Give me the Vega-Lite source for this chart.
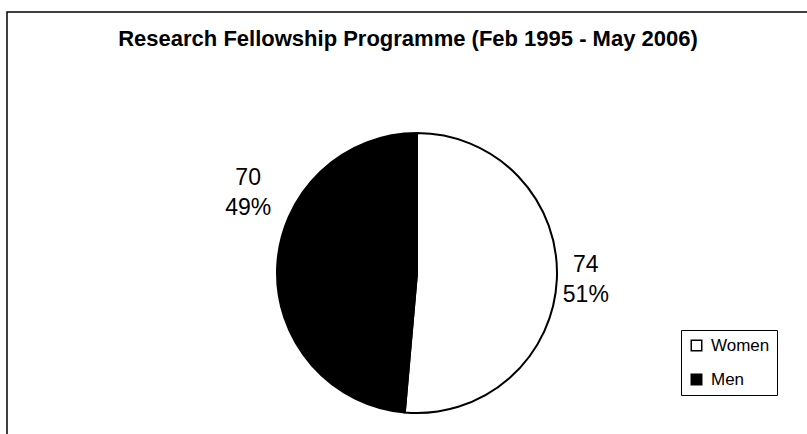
{
  "$schema": "https://vega.github.io/schema/vega-lite/v6.json",
  "width": 820,
  "height": 522,
  "autosize": {"type": "none"},
  "padding": {"left": 7, "top": 12, "right": -20, "bottom": -100},
  "background": "white",
  "view": {"stroke": "black", "strokeWidth": 1.5, "fill": "white"},
  "config": {
    "view": {"stroke": "black", "strokeWidth": 1.5},
    "style": {"view": {"stroke": "black", "strokeWidth": 1.5}},
    "font": "Liberation Sans"
  },
  "title": {
    "text": "Research Fellowship Programme (Feb 1995 - May 2006)",
    "font": "Liberation Sans",
    "fontSize": 22,
    "fontWeight": "bold",
    "color": "black",
    "anchor": "middle",
    "offset": -39,
    "dx": -9
  },
  "data": {
    "values": [
      {"gender": "Women", "count": 74, "label": ["74", "51%"]},
      {"gender": "Men", "count": 70, "label": ["70", "49%"]}
    ]
  },
  "encoding": {
    "theta": {"field": "count", "type": "quantitative", "stack": true},
    "order": {"field": "count", "type": "quantitative", "sort": "descending"}
  },
  "layer": [
    {
      "mark": {"type": "arc", "radius": 140, "stroke": "black", "strokeWidth": 2},
      "encoding": {
        "color": {
          "field": "gender",
          "type": "nominal",
          "scale": {"domain": ["Women", "Men"], "range": ["white", "black"]},
          "legend": {
            "title": null,
            "orient": "none",
            "legendX": 674,
            "legendY": 318,
            "direction": "vertical",
            "symbolType": "square",
            "symbolSize": 110,
            "symbolStrokeColor": "black",
            "symbolStrokeWidth": 1.5,
            "labelFontSize": 17,
            "labelColor": "black",
            "labelFont": "Liberation Sans",
            "labelOffset": 6,
            "strokeColor": "black",
            "fillColor": "white",
            "padding": 7,
            "rowPadding": 16
          }
        }
      }
    },
    {
      "mark": {"type": "text", "radius": 169, "dy": -15, "fontSize": 23, "lineHeight": 30, "align": "center", "baseline": "middle", "fill": "black", "font": "Liberation Sans"},
      "encoding": {
        "detail": {"field": "gender", "type": "nominal"},
        "text": {"condition": {"test": "datum.gender === 'Women'", "field": "label"}, "value": ""}
      }
    },
    {
      "mark": {"type": "text", "radius": 169, "dy": -88, "fontSize": 23, "lineHeight": 30, "align": "center", "baseline": "middle", "fill": "black", "font": "Liberation Sans"},
      "encoding": {
        "detail": {"field": "gender", "type": "nominal"},
        "text": {"condition": {"test": "datum.gender === 'Men'", "field": "label"}, "value": ""}
      }
    }
  ]
}
